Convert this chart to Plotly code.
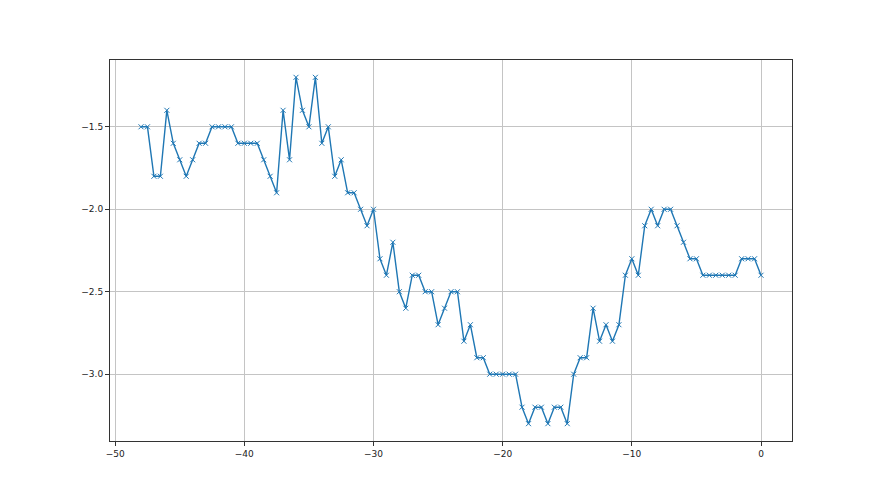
import plotly.graph_objects as go

# sample positions (x) and readings (y)
x_vals = [
    -48, -47.5, -47, -46.5, -46, -45.5, -45, -44.5, -44, -43.5,
    -43, -42.5, -42, -41.5, -41, -40.5, -40, -39.5, -39, -38.5,
    -38, -37.5, -37, -36.5, -36, -35.5, -35, -34.5, -34, -33.5,
    -33, -32.5, -32, -31.5, -31, -30.5, -30, -29.5, -29, -28.5,
    -28, -27.5, -27, -26.5, -26, -25.5, -25, -24.5, -24, -23.5,
    -23, -22.5, -22, -21.5, -21, -20.5, -20, -19.5, -19, -18.5,
    -18, -17.5, -17, -16.5, -16, -15.5, -15, -14.5, -14, -13.5,
    -13, -12.5, -12, -11.5, -11, -10.5, -10, -9.5, -9, -8.5,
    -8, -7.5, -7, -6.5, -6, -5.5, -5, -4.5, -4, -3.5,
    -3, -2.5, -2, -1.5, -1, -0.5, 0,
]
y_vals = [
    -1.5, -1.5, -1.8, -1.8, -1.4, -1.6, -1.7, -1.8, -1.7, -1.6,
    -1.6, -1.5, -1.5, -1.5, -1.5, -1.6, -1.6, -1.6, -1.6, -1.7,
    -1.8, -1.9, -1.4, -1.7, -1.2, -1.4, -1.5, -1.2, -1.6, -1.5,
    -1.8, -1.7, -1.9, -1.9, -2.0, -2.1, -2.0, -2.3, -2.4, -2.2,
    -2.5, -2.6, -2.4, -2.4, -2.5, -2.5, -2.7, -2.6, -2.5, -2.5,
    -2.8, -2.7, -2.9, -2.9, -3.0, -3.0, -3.0, -3.0, -3.0, -3.2,
    -3.3, -3.2, -3.2, -3.3, -3.2, -3.2, -3.3, -3.0, -2.9, -2.9,
    -2.6, -2.8, -2.7, -2.8, -2.7, -2.4, -2.3, -2.4, -2.1, -2.0,
    -2.1, -2.0, -2.0, -2.1, -2.2, -2.3, -2.3, -2.4, -2.4, -2.4,
    -2.4, -2.4, -2.4, -2.3, -2.3, -2.3, -2.4,
]
x_ticks = [-50, -40, -30, -20, -10, 0]
y_ticks = [-3.0, -2.5, -2.0, -1.5]

BLUE = "#1f77b4"

fig = go.Figure()
fig.add_trace(
    go.Scatter(
        x=x_vals,
        y=y_vals,
        mode="lines+markers",
        line=dict(color=BLUE, width=1.4),
        marker=dict(symbol="x-thin", size=5, line=dict(color=BLUE, width=1)),
        showlegend=False,
    )
)

axis_style = dict(
    showgrid=True,
    gridcolor="#c4c4c4",
    gridwidth=1,
    showline=True,
    linecolor="#333333",
    linewidth=1,
    mirror=True,
    ticks="outside",
    ticklen=4,
    tickcolor="#333333",
    zeroline=False,
    tickfont=dict(family="DejaVu Sans", size=9, color="#222222"),
)

fig.update_xaxes(range=[-50.4, 2.4], tickvals=x_ticks, **axis_style)
fig.update_yaxes(range=[-3.405, -1.095], tickvals=y_ticks, tickformat=".1f", **axis_style)

# the page body adds an 8px margin, so the margins here are shifted to compensate
fig.update_layout(
    width=880,
    height=495,
    margin=dict(l=102, r=96, t=52, b=62),
    paper_bgcolor="white",
    plot_bgcolor="white",
)

fig.write_html("out.html")
